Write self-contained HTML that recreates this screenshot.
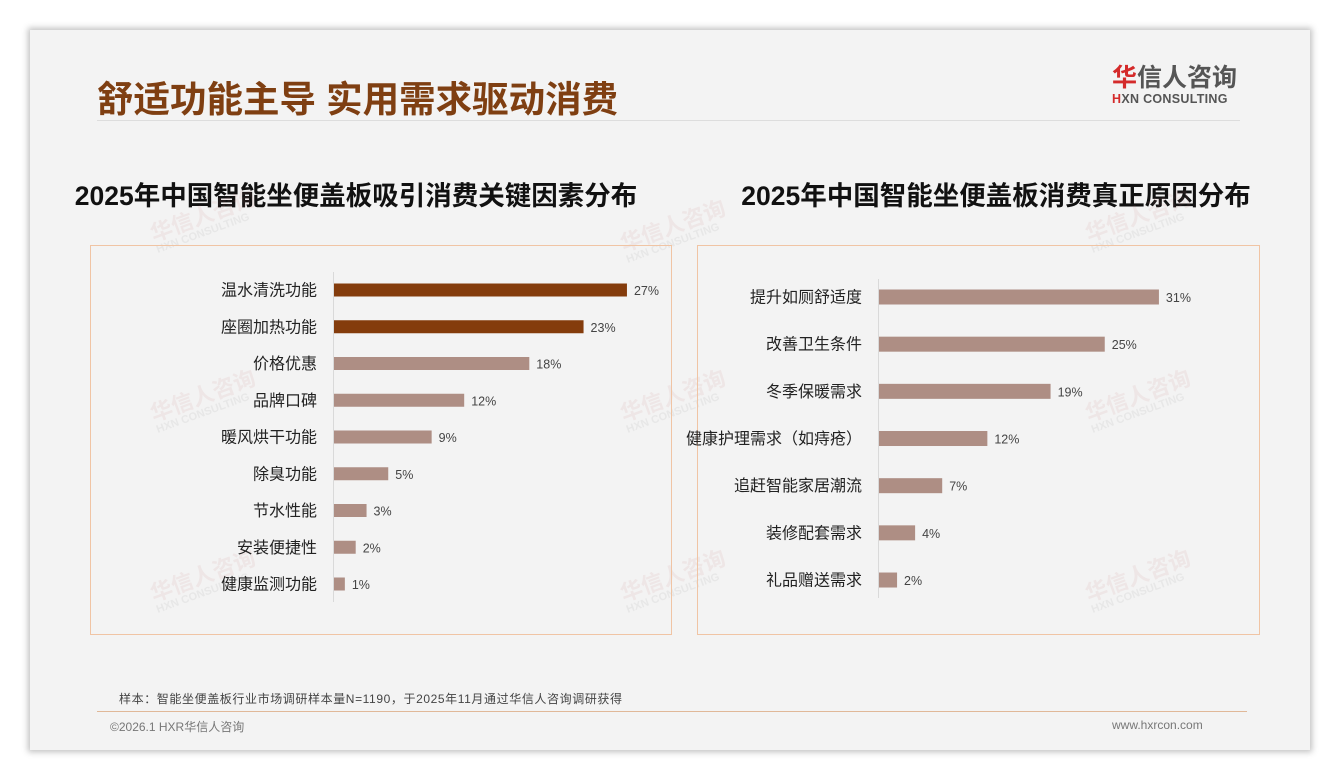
<!DOCTYPE html>
<html><head><meta charset="utf-8">
<style>
body{margin:0;width:1340px;height:780px;background:#fff;font-family:"Liberation Sans","Noto Sans CJK SC",sans-serif;position:relative;overflow:hidden}
.slide{position:absolute;left:30px;top:30px;width:1280px;height:720px;background:#f3f3f3;box-shadow:0 0 6px 2px rgba(0,0,0,.25)}
.abs{position:absolute}
.wm{position:absolute;color:rgba(200,120,120,.10);font-weight:bold;font-size:22px;transform:rotate(-20deg);white-space:nowrap;line-height:1}
.wm small{display:block;font-size:11px;color:rgba(150,150,150,.12)}
</style></head><body>
<div class="slide"></div>
<div class="abs" style="left:97px;top:70px;font-size:36.5px;font-weight:bold;color:#7f3f12;white-space:nowrap">舒适功能主导 实用需求驱动消费</div>
<div class="abs" style="left:1112px;top:64px;text-align:left">
<div style="font-size:25px;font-weight:bold;color:#555;line-height:28px"><span style="color:#d42a2a">华</span>信人咨询</div>
<div style="font-size:12.5px;font-weight:bold;color:#555;letter-spacing:0.3px"><span style="color:#d42a2a">H</span>XN CONSULTING</div></div>
<div class="abs" style="left:97px;top:120px;width:1143px;height:1px;background:#ddd"></div>
<div class="abs" style="left:56px;top:174px;width:600px;text-align:center;font-size:26.5px;font-weight:bold;color:#111;white-space:nowrap">2025年中国智能坐便盖板吸引消费关键因素分布</div>
<div class="abs" style="left:696px;top:174px;width:600px;text-align:center;font-size:26.5px;font-weight:bold;color:#111;white-space:nowrap">2025年中国智能坐便盖板消费真正原因分布</div>
<div class="wm" style="left:150px;top:205px">华信人咨询<small>HXN CONSULTING</small></div>
<div class="wm" style="left:620px;top:215px">华信人咨询<small>HXN CONSULTING</small></div>
<div class="wm" style="left:1085px;top:205px">华信人咨询<small>HXN CONSULTING</small></div>
<div class="wm" style="left:150px;top:385px">华信人咨询<small>HXN CONSULTING</small></div>
<div class="wm" style="left:620px;top:385px">华信人咨询<small>HXN CONSULTING</small></div>
<div class="wm" style="left:1085px;top:385px">华信人咨询<small>HXN CONSULTING</small></div>
<div class="wm" style="left:150px;top:565px">华信人咨询<small>HXN CONSULTING</small></div>
<div class="wm" style="left:620px;top:565px">华信人咨询<small>HXN CONSULTING</small></div>
<div class="wm" style="left:1085px;top:565px">华信人咨询<small>HXN CONSULTING</small></div>
<svg id="chart" class="abs" style="left:0;top:0" width="1340" height="780"></svg>
<div class="abs" style="left:119px;top:690px;font-size:12px;letter-spacing:0.6px;color:#444;white-space:nowrap">样本：智能坐便盖板行业市场调研样本量N=1190，于2025年11月通过华信人咨询调研获得</div>
<div class="abs" style="left:97px;top:711px;width:1150px;height:1px;background:#e0b898"></div>
<div class="abs" style="left:110px;top:718px;font-size:12px;color:#777">©2026.1 HXR华信人咨询</div>
<div class="abs" style="left:1112px;top:718px;font-size:12px;color:#777">www.hxrcon.com</div>
<script>
const leftCats=["温水清洗功能","座圈加热功能","价格优惠","品牌口碑","暖风烘干功能","除臭功能","节水性能","安装便捷性","健康监测功能"];
const leftVals=[27,23,18,12,9,5,3,2,1];
const leftHighlight=[true,true,false,false,false,false,false,false,false];
const rightCats=["提升如厕舒适度","改善卫生条件","冬季保暖需求","健康护理需求（如痔疮）","追赶智能家居潮流","装修配套需求","礼品赠送需求"];
const rightVals=[31,25,19,12,7,4,2];
const NS="http://www.w3.org/2000/svg";
const svg=document.getElementById('chart');
function mk(t,a){const e=document.createElementNS(NS,t);for(const k in a)e.setAttribute(k,a[k]);svg.appendChild(e);return e;}
function panel(box,axisX,scale,y0,step,bh,cats,vals,hl,name){
 const r=mk('rect',{x:box[0]+.5,y:box[1]+.5,width:box[2],height:box[3],fill:'none',stroke:'#f0c4a4','stroke-width':1});
 
 
 const ax=mk('line',{x1:axisX+.5,x2:axisX+.5,y1:y0-18,y2:y0+step*(cats.length-1)+18,stroke:'#d9d9d9'});
 
 
 cats.forEach((c,i)=>{
  const y=y0+i*step; const w=vals[i]*scale;
  const b=mk('rect',{x:axisX+1,y:y-bh/2,width:w,height:bh,fill:(hl&&hl[i])?'#843c0c':'#ae8e84'});
  
  
  const l=mk('text',{x:axisX-16,y:y+5.5,'text-anchor':'end','font-size':16,fill:'#222'});l.textContent=c;
  
  
  const v=mk('text',{x:axisX+1+w+7,y:y+5,'font-size':12.5,fill:'#444'});v.textContent=vals[i]+'%';
  
  
 });
}
panel([90,245,581,389],333,10.85,290,36.75,13,leftCats,leftVals,leftHighlight,'left-chart');
panel([697,245,562,389],878,9.03,297,47.17,15,rightCats,rightVals,null,'right-chart');
</script>
</body></html>
